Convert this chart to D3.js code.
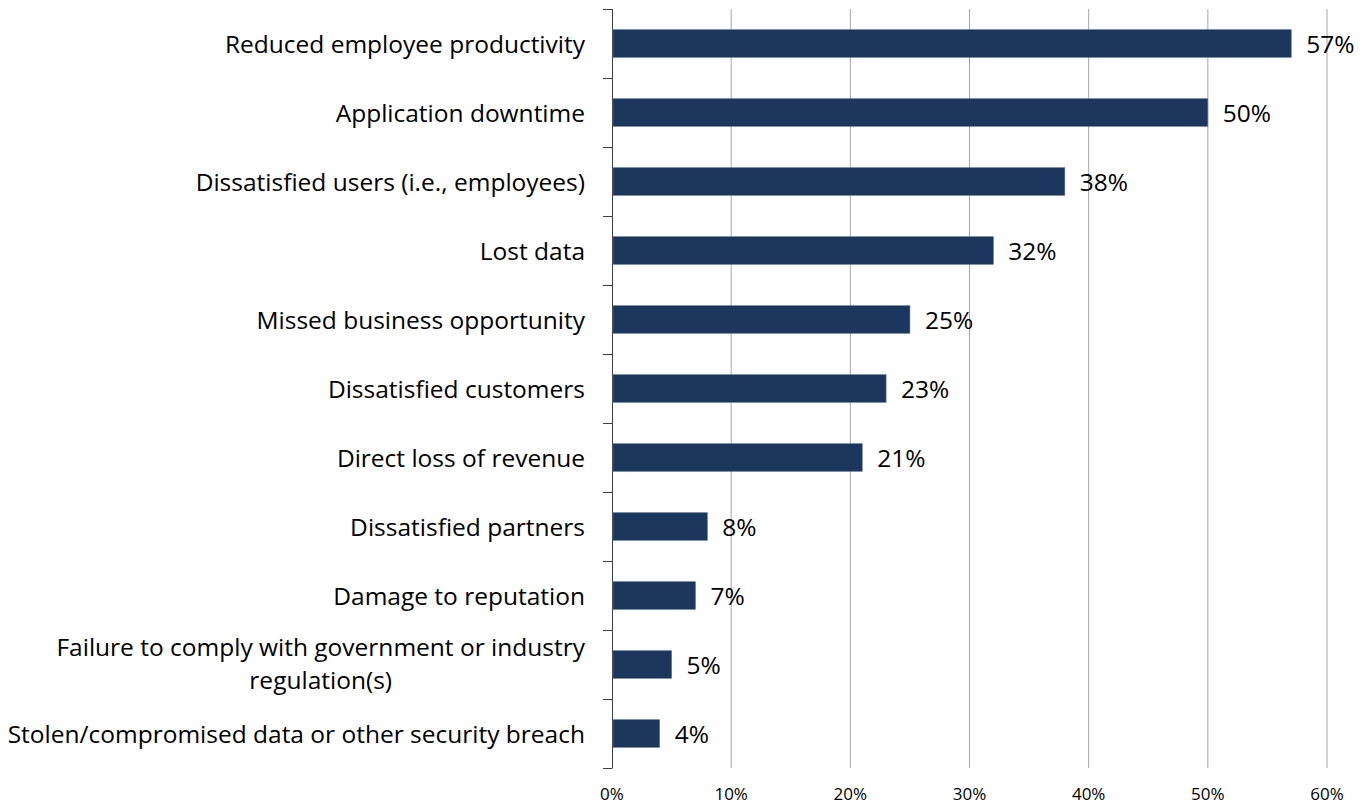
<!DOCTYPE html>
<html>
<head>
<meta charset="utf-8">
<script src="https://cdn.jsdelivr.net/npm/d3@7"></script>
<style>
  html, body { margin: 0; padding: 0; background: #fff; overflow: hidden; }
  svg { display: block; }
  svg text { font-family: "Open Sans", "Noto Sans", sans-serif; fill: #000; }
</style>
</head>
<body>
<div id="chart"></div>
<script>
const categories = [
    "Reduced employee productivity",
    "Application downtime",
    "Dissatisfied users (i.e., employees)",
    "Lost data",
    "Missed business opportunity",
    "Dissatisfied customers",
    "Direct loss of revenue",
    "Dissatisfied partners",
    "Damage to reputation",
    "Failure to comply with government or industry|regulation(s)",
    "Stolen/compromised data or other security breach",
];
const values = [57, 50, 38, 32, 25, 23, 21, 8, 7, 5, 4];
const xTicks = [0, 10, 20, 30, 40, 50, 60];

const width = 1369;
const height = 805;
const margin = { top: 9, right: 42, bottom: 37, left: 612 };
const innerWidth = width - margin.left - margin.right;
const innerHeight = height - margin.top - margin.bottom;
const labelSize = 24.5;

const svg = d3.select("#chart")
    .append("svg")
    .attr("width", width)
    .attr("height", height);

const graph = svg.append("g")
    .attr("transform", "translate(" + margin.left + "," + margin.top + ")");

const x = d3.scaleLinear()
    .domain([0, 60])
    .range([0, innerWidth]);

const y = d3.scaleBand()
    .domain(categories)
    .range([0, innerHeight])
    .paddingInner(0.6)
    .paddingOuter(0.3);

// gridlines
graph.selectAll(".grid")
    .data(xTicks.slice(1))
    .enter()
    .append("line")
    .attr("x1", d => x(d))
    .attr("x2", d => x(d))
    .attr("y1", 0)
    .attr("y2", innerHeight)
    .attr("stroke", "#a6a6a6")
    .attr("stroke-width", 1);

// x tick labels
graph.selectAll(".xlab")
    .data(xTicks)
    .enter()
    .append("text")
    .attr("x", d => x(d))
    .attr("y", innerHeight + 32)
    .attr("text-anchor", "middle")
    .style("font-size", "17px")
    .text(d => d + "%");

// y axis line with tick marks at band boundaries
const step = innerHeight / categories.length;
graph.append("line")
    .attr("x1", 0.5).attr("x2", 0.5)
    .attr("y1", 0).attr("y2", innerHeight)
    .attr("stroke", "#404040");
graph.selectAll(".ytick")
    .data(d3.range(categories.length + 1))
    .enter()
    .append("line")
    .attr("x1", -9).attr("x2", 0.5)
    .attr("y1", i => Math.round(i * step) + 0.5)
    .attr("y2", i => Math.round(i * step) + 0.5)
    .attr("stroke", "#404040");

// bars
graph.selectAll(".bar")
    .data(categories)
    .enter()
    .append("rect")
    .attr("x", 1)
    .attr("y", d => y(d))
    .attr("width", (d, i) => x(values[i]) - 1)
    .attr("height", y.bandwidth())
    .attr("fill", "#1b375d")
    .attr("stroke", "#5a7190")
    .attr("stroke-width", 0.6);

// value labels
graph.selectAll(".val")
    .data(categories)
    .enter()
    .append("text")
    .attr("x", (d, i) => x(values[i]) + 15)
    .attr("y", d => y(d) + y.bandwidth() / 2 + 9)
    .style("font-size", labelSize + "px")
    .text((d, i) => values[i] + "%");

// category labels (multi-line ones are centred under their first line)
graph.selectAll(".cat")
    .data(categories)
    .enter()
    .append("text")
    .attr("y", d => y(d) + y.bandwidth() / 2 + 9)
    .style("font-size", labelSize + "px")
    .each(function (d) {
        const lines = d.split("|");
        const t = d3.select(this);
        if (lines.length === 1) {
            t.attr("x", -27).attr("text-anchor", "end").text(d);
            return;
        }
        const first = t.append("tspan").attr("x", -27).attr("text-anchor", "end")
            .attr("dy", -(lines.length - 1) * 18).text(lines[0]);
        const w = first.node().getComputedTextLength();
        const cx = -27 - w / 2;
        lines.slice(1).forEach(ln => {
            t.append("tspan")
                .attr("x", cx)
                .attr("text-anchor", "middle")
                .attr("dy", 33)
                .text(ln);
        });
    });
</script>
</body>
</html>
